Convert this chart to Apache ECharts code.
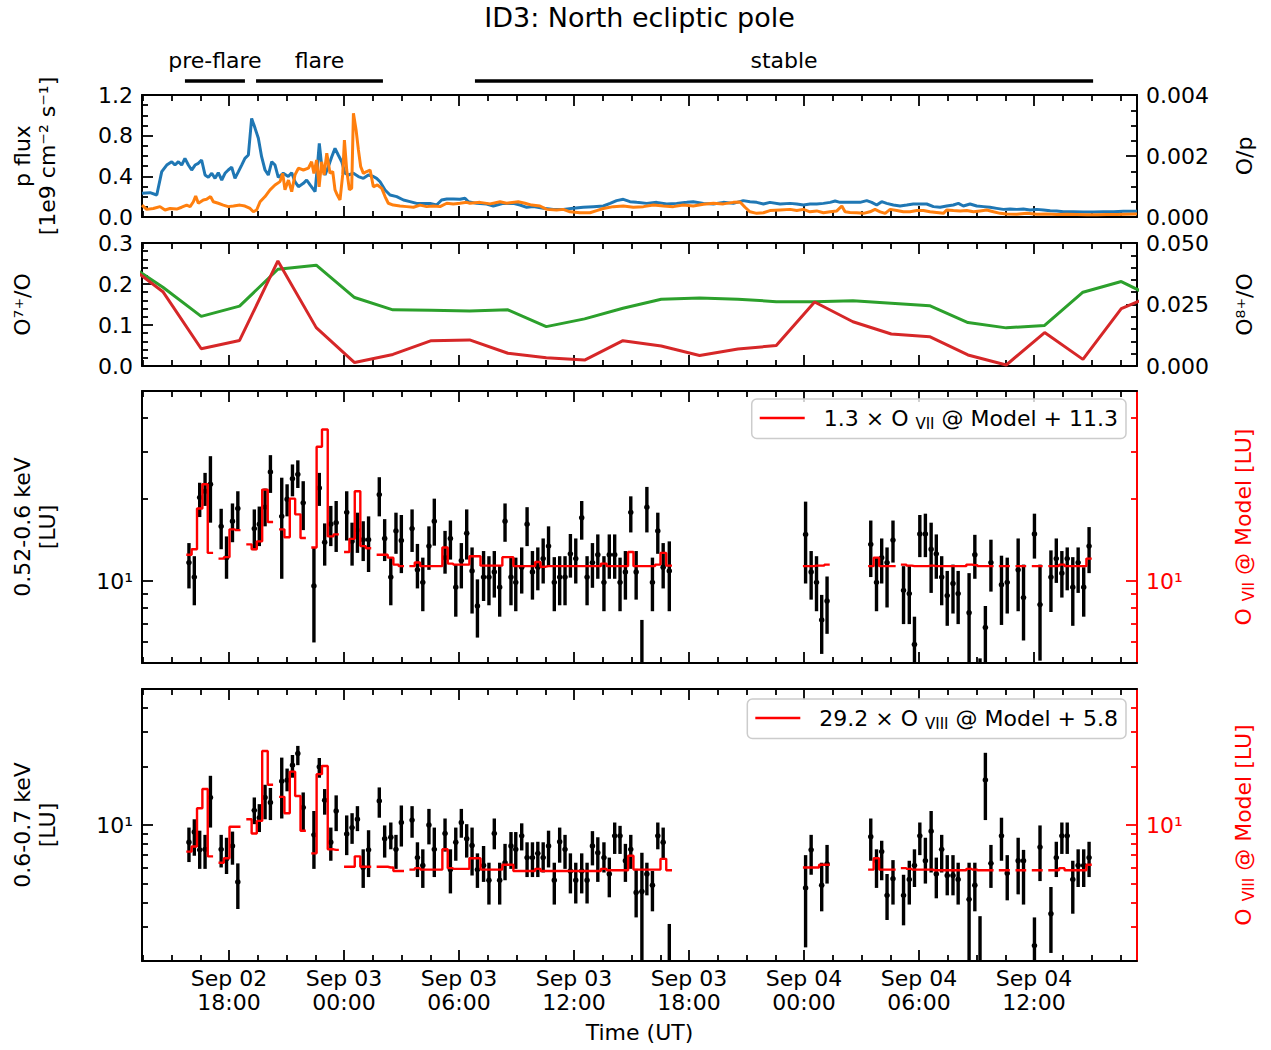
<!DOCTYPE html>
<html><head><meta charset="utf-8">
<script src="https://cdn.jsdelivr.net/npm/echarts@6/dist/echarts.min.js"></script>
<style>html,body{margin:0;padding:0;background:#fff}#c{width:1271px;height:1050px}</style>
</head><body><div id="c"></div><script>
// ---------------- data (hours since Sep 02 00:00 UT) ----------------
const XMIN = 13.46, XMAX = 65.37;
const majorHours = [18, 24, 30, 36, 42, 48, 54, 60];
const tickLabels = ['Sep 02\n18:00','Sep 03\n00:00','Sep 03\n06:00','Sep 03\n12:00','Sep 03\n18:00','Sep 04\n00:00','Sep 04\n06:00','Sep 04\n12:00'];
const minorHours = [13.5,15,16.5,19.5,21,22.5,25.5,27,28.5,31.5,33,34.5,37.5,39,40.5,43.5,45,46.5,49.5,51,52.5,55.5,57,58.5,61.5,63,64.5];

const periodNames = ['pre-flare', 'flare', 'stable'];
const periodStart = [15.70, 19.41, 30.83];
const periodEnd = [18.83, 26.03, 63.08];

// proton flux [1e9 cm^-2 s^-1]
const pFlux = [[13.46,0.233],[13.88,0.239],[14.23,0.216],[14.49,0.446],[14.75,0.511],[15.01,0.544],[15.18,0.511],[15.36,0.544],[15.53,0.511],[15.70,0.577],[15.88,0.511],[16.05,0.462],[16.23,0.511],[16.40,0.528],[16.57,0.561],[16.75,0.413],[16.92,0.390],[17.10,0.430],[17.27,0.380],[17.44,0.436],[17.62,0.364],[17.79,0.430],[17.96,0.462],[18.14,0.489],[18.31,0.380],[18.49,0.446],[18.66,0.511],[18.83,0.577],[19.01,0.610],[19.18,0.970],[19.36,0.872],[19.53,0.774],[19.70,0.593],[19.88,0.462],[20.05,0.413],[20.23,0.544],[20.40,0.511],[20.57,0.390],[20.83,0.430],[21.09,0.398],[21.27,0.436],[21.44,0.347],[21.62,0.298],[21.88,0.331],[22.05,0.364],[22.23,0.315],[22.49,0.249],[22.61,0.495],[22.71,0.725],[22.83,0.511],[23.01,0.413],[23.18,0.495],[23.36,0.593],[23.53,0.675],[23.70,0.610],[23.88,0.544],[24.05,0.430],[24.23,0.413],[24.49,0.430],[24.75,0.398],[25.01,0.380],[25.27,0.413],[25.53,0.398],[25.70,0.380],[25.88,0.347],[26.14,0.266],[26.40,0.216],[26.75,0.200],[27.10,0.167],[27.44,0.151],[27.79,0.134],[28.14,0.134],[28.49,0.134],[28.83,0.118],[29.09,0.167],[29.36,0.177],[29.70,0.177],[30.05,0.174],[30.31,0.184],[30.48,0.151],[30.92,0.134],[31.44,0.128],[31.79,0.108],[32.31,0.134],[32.83,0.134],[33.18,0.118],[33.53,0.095],[33.88,0.102],[34.40,0.085],[34.92,0.075],[35.44,0.075],[35.96,0.085],[36.48,0.095],[37.01,0.102],[37.53,0.108],[37.88,0.134],[38.22,0.161],[38.57,0.174],[38.92,0.151],[39.27,0.144],[39.79,0.134],[40.31,0.144],[40.83,0.128],[41.35,0.134],[41.88,0.144],[42.22,0.151],[42.75,0.134],[43.27,0.128],[43.79,0.144],[44.31,0.134],[44.83,0.161],[45.18,0.151],[45.53,0.144],[45.88,0.128],[46.22,0.144],[46.75,0.128],[47.27,0.134],[47.62,0.128],[47.97,0.118],[48.31,0.128],[48.66,0.128],[49.01,0.134],[49.36,0.144],[49.62,0.157],[49.88,0.144],[50.23,0.144],[50.57,0.144],[50.92,0.144],[51.27,0.161],[51.53,0.144],[51.79,0.118],[52.05,0.151],[52.31,0.134],[52.66,0.118],[53.01,0.108],[53.36,0.118],[53.70,0.128],[54.05,0.128],[54.40,0.128],[54.75,0.102],[55.10,0.095],[55.44,0.108],[55.79,0.118],[56.05,0.134],[56.31,0.108],[56.66,0.128],[57.01,0.108],[57.36,0.102],[57.70,0.095],[58.05,0.085],[58.40,0.075],[58.75,0.079],[59.10,0.075],[59.44,0.079],[59.79,0.069],[60.14,0.075],[60.49,0.069],[60.84,0.062],[61.18,0.059],[61.53,0.052],[62.05,0.052],[62.57,0.049],[63.10,0.049],[63.62,0.052],[64.14,0.052],[64.66,0.056],[65.18,0.056],[65.37,0.056]];

// O/p ratio
const oToP = [[13.46,0.00039],[13.70,0.00025],[14.05,0.00028],[14.40,0.00034],[14.66,0.00023],[14.92,0.00028],[15.27,0.00026],[15.53,0.00032],[15.79,0.00039],[15.97,0.00034],[16.14,0.00050],[16.26,0.00069],[16.40,0.00045],[16.66,0.00056],[16.83,0.00058],[17.04,0.00067],[17.18,0.00050],[17.44,0.00045],[17.70,0.00039],[17.96,0.00034],[18.23,0.00036],[18.57,0.00039],[18.83,0.00036],[19.10,0.00028],[19.27,0.00017],[19.44,0.00023],[19.62,0.00050],[19.88,0.00067],[20.14,0.00089],[20.40,0.00105],[20.66,0.00116],[20.80,0.00143],[20.92,0.00089],[21.10,0.00121],[21.27,0.00083],[21.44,0.00138],[21.62,0.00160],[21.88,0.00154],[22.14,0.00160],[22.31,0.00181],[22.43,0.00143],[22.57,0.00187],[22.70,0.00099],[22.83,0.00181],[22.96,0.00138],[23.10,0.00209],[23.27,0.00143],[23.41,0.00149],[23.53,0.00089],[23.65,0.00072],[23.79,0.00056],[23.93,0.00138],[24.02,0.00252],[24.14,0.00154],[24.28,0.00089],[24.40,0.00094],[24.49,0.00340],[24.63,0.00285],[24.75,0.00220],[24.87,0.00165],[25.01,0.00143],[25.18,0.00149],[25.36,0.00154],[25.53,0.00099],[25.74,0.00105],[25.97,0.00094],[26.14,0.00067],[26.31,0.00045],[26.57,0.00039],[26.92,0.00036],[27.27,0.00034],[27.62,0.00032],[27.97,0.00039],[28.31,0.00034],[28.66,0.00036],[29.01,0.00034],[29.36,0.00045],[29.70,0.00043],[30.05,0.00045],[30.40,0.00048],[30.57,0.00045],[31.09,0.00048],[31.62,0.00043],[32.14,0.00050],[32.48,0.00045],[33.09,0.00050],[33.44,0.00045],[33.79,0.00039],[34.22,0.00036],[34.57,0.00025],[35.09,0.00023],[35.44,0.00025],[35.79,0.00017],[36.31,0.00014],[36.83,0.00014],[37.18,0.00021],[37.53,0.00028],[38.05,0.00034],[38.57,0.00036],[39.09,0.00032],[39.62,0.00034],[40.14,0.00039],[40.66,0.00036],[41.18,0.00034],[41.70,0.00039],[42.22,0.00036],[42.75,0.00042],[43.27,0.00045],[43.79,0.00043],[44.31,0.00048],[44.66,0.00049],[44.92,0.00032],[45.18,0.00017],[45.53,0.00012],[45.88,0.00014],[46.22,0.00021],[46.75,0.00023],[47.27,0.00025],[47.62,0.00021],[47.97,0.00025],[48.31,0.00017],[48.66,0.00020],[49.01,0.00014],[49.36,0.00017],[49.71,0.00020],[49.97,0.00036],[50.14,0.00017],[50.40,0.00015],[50.75,0.00014],[51.10,0.00012],[51.44,0.00017],[51.70,0.00025],[51.97,0.00017],[52.23,0.00012],[52.49,0.00025],[52.84,0.00021],[53.18,0.00017],[53.53,0.00017],[53.88,0.00021],[54.23,0.00021],[54.57,0.00017],[54.92,0.00015],[55.27,0.00012],[55.44,0.00023],[55.79,0.00021],[56.14,0.00020],[56.49,0.00021],[56.84,0.00017],[57.18,0.00020],[57.53,0.00023],[57.88,0.00017],[58.23,0.00012],[58.57,0.00010],[59.10,0.00009],[59.62,0.00012],[60.14,0.00009],[60.66,0.00010],[61.18,0.00008],[61.71,0.00009],[62.23,0.00008],[62.75,0.00007],[63.27,0.00007],[63.79,0.00008],[64.31,0.00008],[64.84,0.00009],[65.37,0.00010]];

// charge-state ratios (2 h cadence)
const ratioTimes = [12.55,14.55,16.55,18.55,20.55,22.55,24.55,26.55,28.55,30.55,32.55,34.55,36.55,38.55,40.55,42.55,44.55,46.55,48.55,50.55,52.55,54.55,56.55,58.55,60.55,62.55,64.55,66.55];
const o7Ratio = [0.254,0.192,0.121,0.146,0.236,0.246,0.167,0.137,0.136,0.134,0.137,0.096,0.115,0.141,0.163,0.166,0.163,0.157,0.157,0.159,0.153,0.147,0.106,0.093,0.099,0.180,0.206,0.160];
const o8Ratio = [0.042,0.0302,0.0070,0.0104,0.0427,0.0156,0.0014,0.0047,0.0103,0.0106,0.0052,0.0034,0.0024,0.0103,0.0081,0.0043,0.0069,0.0083,0.0260,0.0180,0.0130,0.0119,0.0045,0.0004,0.0136,0.0027,0.0233,0.030];

// light-curve bins (shared by both energy bands)
const BIN_HALF = 0.139;
const binTime = [15.91,16.19,16.47,16.75,17.03,17.31,
17.59,17.87,18.18,18.46,18.76,
19.04,19.32,19.58,19.88,20.16,20.45,
20.75,21.03,21.31,21.59,21.87,22.15,
22.43,22.71,22.99,23.31,23.59,23.86,
24.14,24.42,24.70,25.00,25.28,25.56,
25.84,26.12,26.44,26.71,26.99,27.27,
27.55,27.83,28.11,28.43,28.71,28.99,
29.27,29.55,29.83,30.12,30.40,30.68,30.96,
31.28,31.56,31.84,32.12,32.40,32.71,32.96,
33.27,33.55,33.83,34.11,34.39,34.67,34.97,
35.25,35.53,35.81,36.09,36.40,36.68,36.96,
37.24,37.56,37.84,38.12,38.40,38.68,38.96,
39.24,39.54,39.80,40.09,40.37,40.65,40.97,
44.50,
48.08,48.37,48.65,48.92,49.20,
50.30,
51.48,51.78,52.05,52.33,52.64,52.92,
53.19,53.49,53.76,54.04,54.33,54.63,
54.90,55.18,55.47,55.77,56.04,56.32,
56.61,56.91,57.18,57.46,57.75,58.03,
58.30,58.60,58.88,59.17,59.45,59.74,
60.02,60.31,60.59,60.88,61.16,61.45,
61.73,62.02,62.30,62.59,62.87];

// 0.52-0.6 keV [LU]
const val52 = [11.7,10.35,20.3,21.4,22.7,null,
15.9,12.2,16.6,18.5,null,
null,15.6,16.2,18.7,25.2,null,
17.3,20.0,23.8,24.7,19.4,null,
9.6,22.0,13.9,16.2,16.4,null,
17.9,14.0,15.4,14.2,14.2,null,
20.8,14.35,10.35,15.3,14.1,null,
15.6,11.0,9.9,13.45,16.6,null,
12.2,14.35,9.5,11.9,15.0,10.9,8.1,
10.35,10.35,10.8,9.5,16.6,10.35,9.9,
11.25,16.2,10.8,11.25,12.1,13.45,9.9,
10.35,10.35,12.6,12.1,17.1,10.35,11.7,
12.5,9.9,12.5,12.5,9.9,10.8,17.9,
10.8,4.0,18.7,9.9,15.3,11.25,10.9,
null,
14.85,10.8,9.9,7.2,8.45,
null,
13.65,9.9,12.2,11.7,14.15,null,
9.25,9.0,5.85,14.9,14.9,13.1,
12.6,10.35,8.85,9.8,9.0,null,
7.65,12.5,3.5,6.75,11.7,null,
9.7,9.9,null,11.0,8.7,null,
14.9,8.2,null,10.35,12.1,10.7,
12.1,9.5,11.7,9.5,13.45];
const lo52 = [9.4,8.15,17.2,18.9,16.4,null,
13.1,10.2,13.9,15.4,null,
null,13.0,13.45,15.9,21.1,null,
10.2,17.3,20.5,22.0,15.4,null,
5.95,18.9,11.4,13.45,12.8,null,
14.1,11.4,12.7,11.85,10.8,null,
17.3,11.85,8.15,12.6,10.7,null,
12.8,9.4,7.75,11.0,13.5,null,
10.65,12.0,7.4,9.4,12.0,7.6,6.2,
8.45,8.15,8.7,7.4,13.95,8.15,7.75,
9.0,13.45,8.55,9.25,9.8,11.35,7.75,
8.15,8.15,10.3,9.8,14.2,8.15,9.45,
10.2,7.75,10.2,10.2,7.75,8.55,15.1,
8.55,1.0,15.1,7.75,12.6,9.4,7.75,
null,
9.8,8.55,7.75,5.4,6.4,
null,
10.35,7.75,9.8,8.0,11.7,null,
6.95,6.95,4.5,12.25,12.25,9.05,
10.2,8.15,6.85,7.6,6.95,null,
4.5,10.2,1.0,4.5,9.15,null,
6.9,7.6,null,7.75,6.05,null,
12.1,5.1,null,7.7,9.85,8.7,
9.25,6.85,9.05,7.4,10.7];
const hi52 = [13.8,12.35,23.0,25.0,28.8,null,
18.45,14.6,19.3,21.4,null,
null,18.35,18.8,21.9,29.05,null,
24.0,22.7,26.85,27.8,23.3,null,
13.3,25.0,16.3,18.9,19.7,null,
21.4,16.4,17.85,16.6,17.3,null,
24.1,16.9,12.2,17.85,17.5,null,
18.35,13.7,12.2,15.9,20.1,null,
15.3,16.7,11.5,13.8,18.35,13.3,10.15,
12.9,12.35,12.9,11.35,19.3,12.35,12.2,
13.3,18.7,12.9,13.3,14.35,15.9,12.25,
12.35,12.35,14.9,14.35,19.7,12.35,13.8,
14.85,12.35,14.85,14.85,12.2,12.9,20.5,
12.9,7.2,22.2,12.2,17.85,13.8,14.0,
null,
19.6,12.9,12.35,8.9,10.4,
null,
16.7,12.2,14.35,13.3,16.7,null,
11.35,11.35,7.4,17.5,17.7,16.4,
14.85,12.35,10.9,11.5,10.9,null,
10.7,14.8,5.2,8.1,14.2,null,
12.4,12.2,null,14.35,11.5,null,
17.7,11.5,null,12.97,14.35,12.9,
13.3,12.25,13.3,11.25,15.8];
// 1.3 x O VII @ Model + 11.3
const model52 = [12.5,13.1,18.5,22.7,12.7,null,
12.1,12.25,15.5,15.4,null,
13.65,13.1,14.0,21.7,16.5,null,
15.5,14.5,20.1,17.6,14.4,null,
13.3,31.2,36.1,14.6,14.85,null,
12.8,14.3,21.4,13.45,13.2,null,
12.5,12.5,12.2,11.5,11.35,null,
11.35,11.7,11.35,11.35,11.35,11.35,
13.3,11.6,11.5,11.5,11.5,12.35,12.35,
11.4,11.4,11.4,11.4,12.25,12.25,11.35,
11.35,11.35,11.35,11.75,11.3,11.35,11.35,
11.35,11.35,11.35,11.35,11.35,11.35,11.35,
11.35,11.6,11.35,11.35,11.35,11.35,12.8,
11.35,11.35,11.35,11.35,11.5,12.7,11.4,
null,
11.35,11.35,11.4,11.4,11.5,
null,
11.35,12.2,11.35,11.35,11.35,null,
11.5,11.4,11.35,11.35,11.35,11.4,
11.35,11.35,11.35,11.35,11.35,11.35,
11.5,11.45,11.35,11.35,11.35,null,
11.35,11.35,null,11.35,11.35,null,
11.35,11.35,null,11.35,11.35,11.5,
11.35,11.35,11.35,11.35,12.1];

// 0.6-0.7 keV [LU]
const val67 = [8.15,9.2,7.45,7.5,13.85,null,
7.5,6.7,7.8,5.1,null,
null,11.9,10.9,13.85,13.05,null,
16.8,17.0,20.3,23.3,12.3,null,
8.9,19.9,13.4,8.15,11.8,null,
9.0,9.7,10.7,6.05,7.45,null,
13.3,8.5,8.65,7.5,10.3,null,
10.6,6.8,6.2,10.0,7.5,null,
9.05,5.9,8.15,10.3,8.5,7.85,5.9,
6.2,5.2,9.05,5.2,6.4,7.8,7.5,
8.8,6.8,6.8,7.15,6.8,7.8,5.2,
8.2,7.5,5.8,5.2,5.8,5.2,7.8,
7.2,6.8,5.6,8.8,8.8,6.55,7.5,
4.5,4.55,5.6,4.9,8.8,8.15,1.5,
null,
4.75,7.45,null,4.9,6.3,
null,
8.7,6.55,7.3,4.35,5.3,null,
4.35,5.25,6.2,8.8,6.55,9.3,
5.6,7.5,5.5,5.5,5.25,null,
4.15,4.9,1.6,17.05,6.35,null,
8.8,5.65,null,6.55,6.55,null,
2.4,7.7,null,3.5,6.8,8.8,
8.8,5.25,6.2,6.2,6.8];
const lo67 = [6.45,6.95,5.95,5.95,9.7,null,
6.05,5.6,6.25,3.7,null,
null,10.1,9.2,10.7,10.6,null,
10.8,14.9,17.5,20.3,9.4,null,
5.95,17.5,11.3,6.55,9.3,null,
7.0,8.0,9.3,4.75,5.4,null,
10.9,6.8,7.5,5.95,7.75,null,
8.6,5.4,4.75,7.95,5.4,null,
7.3,4.45,6.55,8.6,6.8,5.5,4.75,
5.1,3.9,7.5,3.9,5.2,5.95,5.95,
7.4,5.4,5.4,5.4,5.7,6.05,3.9,
6.4,5.95,4.45,3.95,4.45,3.95,6.2,
5.1,5.7,4.25,7.1,7.1,5.1,5.95,
3.35,1.5,4.35,3.6,7.5,6.75,1.0,
null,
2.35,5.55,null,3.6,5.0,
null,
6.55,4.75,5.2,3.25,3.9,null,
3.05,3.9,4.8,7.0,5.0,5.7,
4.2,5.7,4.35,4.35,3.9,null,
1.8,3.6,1.0,10.6,4.75,null,
6.55,4.1,null,4.4,3.9,null,
1.8,5.15,null,2.2,5.4,7.1,
7.1,3.5,4.8,4.8,5.4];
const hi67 = [9.7,10.7,9.35,8.9,17.9,null,
8.9,8.6,9.25,6.35,null,
null,13.85,12.8,16.1,15.5,null,
22.2,19.5,22.9,25.5,14.7,null,
11.8,22.1,15.3,9.7,14.2,null,
11.2,11.5,12.5,7.5,9.4,null,
15.6,9.95,10.3,8.9,12.6,null,
12.5,8.15,7.5,12.1,9.7,null,
10.8,7.5,9.7,12.1,10.1,9.7,7.15,
7.8,6.4,10.8,6.4,8.0,9.2,9.2,
10.2,8.15,8.15,8.2,8.15,9.35,6.4,
9.7,8.9,7.15,6.4,7.15,6.4,9.3,
8.65,8.15,6.8,10.3,9.9,8.0,8.9,
5.95,7.2,6.4,5.8,10.3,9.7,3.1,
null,
7.0,8.9,null,6.4,7.9,
null,
10.8,7.5,8.3,5.6,6.6,null,
5.55,6.55,7.5,10.3,8.6,11.8,
6.8,8.9,7.0,7.0,6.4,null,
6.4,6.4,3.4,23.5,7.9,null,
10.9,7.0,null,8.6,7.45,null,
3.35,9.95,null,4.8,8.2,10.3,
10.3,6.55,7.5,7.5,8.2];
// 29.2 x O VIII @ Model + 5.8
const model67 = [7.3,7.75,12.2,15.3,6.9,null,
6.4,6.75,9.8,9.8,null,
10.7,9.05,10.5,24.0,16.1,null,
13.95,11.5,18.8,14.1,9.35,null,
7.15,18.25,20.1,7.5,7.45,null,
6.1,6.1,6.9,6.1,6.1,null,
6.1,6.1,6.05,5.8,5.8,null,
5.9,6.0,5.9,5.9,5.9,5.9,
7.5,6.0,5.95,5.95,5.95,6.75,6.75,
5.9,5.9,5.9,5.9,6.25,6.25,5.8,
5.8,5.8,5.8,5.95,5.8,5.8,5.8,
5.8,5.8,5.8,5.8,5.8,5.8,5.8,
5.8,5.95,5.85,5.85,5.85,5.85,6.95,
5.9,5.9,5.9,5.9,5.9,6.7,5.85,
null,
6.05,6.05,6.05,6.25,6.25,
null,
5.9,6.75,5.9,5.9,5.9,null,
6.0,5.95,5.9,5.9,5.9,5.9,
5.85,5.85,5.85,5.85,5.85,5.85,
5.95,5.9,5.85,5.85,5.85,null,
5.85,5.85,null,5.85,5.85,null,
5.85,5.85,null,5.85,5.85,6.0,
5.85,5.85,5.85,5.85,6.25];

// ---------------- chart ----------------
const FONT = 'DejaVu Sans';
const BLACK = '#000000', RED = '#ff0000';
const AXW = 2, TKW = 1.8, MAJ = 11, MINL = 6, FS = 22;

const chart = echarts.init(document.getElementById('c'), null, {renderer: 'svg'});

const gridBase = {left: 142, right: 134, outerBoundsMode: 'none'};
const grids = [
  {...gridBase, top: 40, height: 50},
  {...gridBase, top: 95, height: 122},
  {...gridBase, top: 243, height: 123},
  {...gridBase, top: 391, height: 272},
  {...gridBase, top: 689, height: 272}
];

const xAxes = [{type: 'value', gridIndex: 0, min: XMIN, max: XMAX, show: false}];
const yAxes = [{type: 'value', gridIndex: 0, min: 0, max: 1, show: false}];

function tickStyle(vals, len, color) {
  return {show: true, inside: true, length: len, customValues: vals, lineStyle: {color: color, width: TKW}};
}
function addX(g, withLabels) {
  const base = {type: 'value', gridIndex: g, min: XMIN, max: XMAX, splitLine: {show: false}, minorSplitLine: {show: false}};
  const idx = xAxes.length;
  xAxes.push({...base, position: 'bottom',
    axisLine: {show: true, onZero: false, lineStyle: {color: BLACK, width: AXW}},
    axisTick: tickStyle(majorHours, MAJ, BLACK),
    axisLabel: withLabels ? {show: true, customValues: majorHours, formatter: v => tickLabels[majorHours.indexOf(v)],
      color: BLACK, fontSize: FS, fontFamily: FONT, lineHeight: 24, margin: 5} : {show: false},
    name: withLabels ? 'Time (UT)' : '', nameLocation: 'middle', nameGap: 60,
    nameTextStyle: {color: BLACK, fontSize: FS, fontFamily: FONT}});
  xAxes.push({...base, position: 'bottom', axisLine: {show: false, onZero: false}, axisTick: tickStyle(minorHours, MINL, BLACK), axisLabel: {show: false}});
  xAxes.push({...base, position: 'top', axisLine: {show: true, onZero: false, lineStyle: {color: BLACK, width: AXW}}, axisTick: tickStyle(majorHours, MAJ, BLACK), axisLabel: {show: false}});
  xAxes.push({...base, position: 'top', axisLine: {show: false, onZero: false}, axisTick: tickStyle(minorHours, MINL, BLACK), axisLabel: {show: false}});
  return idx;
}
function linY(g, pos, max, interval, minorSplit, digits, name, gap) {
  const idx = yAxes.length;
  yAxes.push({type: 'value', gridIndex: g, position: pos, min: 0, max: max, interval: interval,
    axisLine: {show: true, onZero: false, lineStyle: {color: BLACK, width: AXW}},
    axisTick: {show: true, inside: true, length: MAJ, lineStyle: {color: BLACK, width: TKW}},
    minorTick: {show: true, splitNumber: minorSplit, length: MINL, lineStyle: {color: BLACK, width: TKW}},
    splitLine: {show: false}, minorSplitLine: {show: false},
    axisLabel: {formatter: v => v.toFixed(digits), color: BLACK, fontSize: FS, fontFamily: FONT, margin: 9},
    name: name, nameLocation: 'middle', nameRotate: 90, nameGap: gap,
    nameTextStyle: {color: BLACK, fontSize: FS, fontFamily: FONT, lineHeight: 25}});
  return idx;
}
function logY(g, min, max, minorVals, leftName, rightName, rightRich) {
  const lmin = Math.log10(min), lmax = Math.log10(max);
  const idx = yAxes.length;
  const plain = {splitLine: {show: false}, minorSplitLine: {show: false}};
  yAxes.push({...plain, type: 'log', logBase: 10, gridIndex: g, position: 'left', min: min, max: max,
    axisLine: {show: true, onZero: false, lineStyle: {color: BLACK, width: AXW}},
    axisTick: {show: false}, axisLabel: {show: false},
    name: leftName, nameLocation: 'middle', nameRotate: 90, nameGap: 82,
    nameTextStyle: {color: BLACK, fontSize: FS, fontFamily: FONT, lineHeight: 25}});
  yAxes.push({...plain, type: 'value', gridIndex: g, position: 'left', min: lmin, max: lmax,
    axisLine: {show: false, onZero: false}, axisTick: tickStyle([1], MAJ, BLACK),
    axisLabel: {show: true, customValues: [1], formatter: () => '10¹', color: BLACK, fontSize: FS, fontFamily: FONT, margin: 9}});
  yAxes.push({...plain, type: 'value', gridIndex: g, position: 'left', min: lmin, max: lmax,
    axisLine: {show: false, onZero: false}, axisTick: tickStyle(minorVals.map(Math.log10), MINL, BLACK), axisLabel: {show: false}});
  yAxes.push({...plain, type: 'log', logBase: 10, gridIndex: g, position: 'right', min: min, max: max,
    axisLine: {show: true, onZero: false, lineStyle: {color: RED, width: AXW}},
    axisTick: {show: false}, axisLabel: {show: false},
    name: rightName, nameLocation: 'middle', nameRotate: 90, nameGap: 93,
    nameTextStyle: {color: RED, fontSize: FS, fontFamily: FONT, rich: rightRich}});
  yAxes.push({...plain, type: 'value', gridIndex: g, position: 'right', min: lmin, max: lmax,
    axisLine: {show: false, onZero: false}, axisTick: tickStyle([1], MAJ, RED),
    axisLabel: {show: true, customValues: [1], formatter: () => '10¹', color: RED, fontSize: FS, fontFamily: FONT, margin: 9}});
  yAxes.push({...plain, type: 'value', gridIndex: g, position: 'right', min: lmin, max: lmax,
    axisLine: {show: false, onZero: false}, axisTick: tickStyle(minorVals.map(Math.log10), MINL, RED), axisLabel: {show: false}});
  return idx;
}

const redRich = {
  a: {color: RED, fontSize: FS, fontFamily: FONT, lineHeight: 26},
  b: {color: RED, fontSize: 15, fontFamily: FONT, lineHeight: 16, verticalAlign: 'bottom'}
};

const x1 = addX(1, false), x2 = addX(2, false), x3 = addX(3, false), x4 = addX(4, true);
const y1L = linY(1, 'left', 1.2, 0.4, 4, 1, 'p flux\n[1e9 cm⁻² s⁻¹]', 82);
const y1R = linY(1, 'right', 0.004, 0.002, 4, 3, 'O/p', 95);
const y2L = linY(2, 'left', 0.3, 0.1, 5, 1, 'O⁷⁺/O', 107);
const y2R = linY(2, 'right', 0.05, 0.025, 5, 3, 'O⁸⁺/O', 95);
const y3 = logY(3, 5, 50, [6, 7, 8, 9, 20, 30, 40], '0.52-0.6 keV\n[LU]', '{a|O }{b|VII}{a| @ Model [LU]}', redRich);
const y4 = logY(4, 2, 50, [3, 4, 5, 6, 7, 8, 9, 20, 30, 40], '0.6-0.7 keV\n[LU]', '{a|O }{b|VIII}{a| @ Model [LU]}', redRich);

function errorBars(xi, yi, vals, los, his) {
  const data = [];
  binTime.forEach((t, i) => { if (vals[i] != null) data.push([t, vals[i], los[i], his[i]]); });
  return {type: 'custom', xAxisIndex: xi, yAxisIndex: yi, clip: true, silent: true, z: 3,
    data: data, encode: {x: 0, y: [1, 2, 3]},
    renderItem: function (params, api) {
      const t = api.value(0);
      const pV = api.coord([t, api.value(1)]);
      const pL = api.coord([t, api.value(2)]);
      const pH = api.coord([t, api.value(3)]);
      return {type: 'group', children: [
        {type: 'line', shape: {x1: pL[0], y1: pL[1], x2: pH[0], y2: pH[1]}, style: {stroke: BLACK, lineWidth: 3.4}},
        {type: 'circle', shape: {cx: pV[0], cy: pV[1], r: 2.8}, style: {fill: BLACK}}
      ]};
    }};
}
// step outline: each bin spans its full width; runs separated by empty points placed on the run edges
function stepData(vals) {
  const out = [];
  let inRun = false;
  for (let i = 0; i < binTime.length; i++) {
    const v = vals[i];
    if (v == null) continue;
    if (!inRun) {
      if (out.length) out.push([binTime[i] - BIN_HALF, '-']);
      out.push([binTime[i] - BIN_HALF, v]);
      inRun = true;
    }
    out.push([binTime[i], v]);
    if (i + 1 >= binTime.length || vals[i + 1] == null) {
      out.push([binTime[i] + BIN_HALF, v]);
      out.push([binTime[i] + BIN_HALF, '-']);
      inRun = false;
    }
  }
  return out;
}

const series = [
  {type: 'custom', name: 'periods', xAxisIndex: 0, yAxisIndex: 0, silent: true,
   data: periodNames.map((n, i) => [periodStart[i], periodEnd[i], i]),
   renderItem: function (params, api) {
     const a = api.coord([api.value(0), 0.18]);
     const b = api.coord([api.value(1), 0.18]);
     const c = api.coord([(api.value(0) + api.value(1)) / 2, 0.6]);
     return {type: 'group', children: [
       {type: 'line', shape: {x1: a[0], y1: a[1], x2: b[0], y2: b[1]}, style: {stroke: BLACK, lineWidth: 3.5}},
       {type: 'text', style: {text: periodNames[api.value(2)], x: c[0], y: c[1], align: 'center', verticalAlign: 'middle',
         textAlign: 'center', textVerticalAlign: 'middle', fill: BLACK, fontSize: FS, fontFamily: FONT}}
     ]};
   }},
  {type: 'line', name: 'p flux', xAxisIndex: x1, yAxisIndex: y1L, data: pFlux, symbol: 'none', clip: true,
   lineStyle: {color: '#1f77b4', width: 3}, itemStyle: {color: '#1f77b4'}},
  {type: 'line', name: 'O/p', xAxisIndex: x1, yAxisIndex: y1R, data: oToP, symbol: 'none', clip: true,
   lineStyle: {color: '#ff7f0e', width: 3}, itemStyle: {color: '#ff7f0e'}},
  {type: 'line', name: 'O7', xAxisIndex: x2, yAxisIndex: y2L, data: ratioTimes.map((t, i) => [t, o7Ratio[i]]), symbol: 'none', clip: true,
   lineStyle: {color: '#2ca02c', width: 3}, itemStyle: {color: '#2ca02c'}},
  {type: 'line', name: 'O8', xAxisIndex: x2, yAxisIndex: y2R, data: ratioTimes.map((t, i) => [t, o8Ratio[i]]), symbol: 'none', clip: true,
   lineStyle: {color: '#d62728', width: 3}, itemStyle: {color: '#d62728'}},
  errorBars(x3, y3, val52, lo52, hi52),
  {type: 'line', name: 'm52', xAxisIndex: x3, yAxisIndex: y3, data: stepData(model52), step: 'middle', symbol: 'none', clip: true, z: 4,
   connectNulls: false, lineStyle: {color: RED, width: 2.4}, itemStyle: {color: RED}},
  errorBars(x4, y4, val67, lo67, hi67),
  {type: 'line', name: 'm67', xAxisIndex: x4, yAxisIndex: y4, data: stepData(model67), step: 'middle', symbol: 'none', clip: true, z: 4,
   connectNulls: false, lineStyle: {color: RED, width: 2.4}, itemStyle: {color: RED}}
];

const legendRich = {
  f: {color: BLACK, fontSize: FS, fontFamily: FONT, lineHeight: 27, padding: [0, 0, 0, 14]},
  n: {color: BLACK, fontSize: FS, fontFamily: FONT, lineHeight: 27},
  s: {color: BLACK, fontSize: 15, fontFamily: FONT, lineHeight: 16, verticalAlign: 'bottom'}
};
const legendBase = {orient: 'horizontal', icon: 'rect', itemWidth: 45, itemHeight: 2.4, padding: [8, 8, 7, 8],
  borderColor: '#cccccc', borderWidth: 1.5, borderRadius: 5, backgroundColor: 'rgba(255,255,255,0.8)',
  selectedMode: false, textStyle: {color: BLACK, fontSize: FS, fontFamily: FONT, rich: legendRich}};

chart.setOption({
  animation: false,
  backgroundColor: '#ffffff',
  textStyle: {fontFamily: FONT},
  title: {text: 'ID3: North ecliptic pole', left: 639.5, top: 4, padding: 0, textAlign: 'center',
    textStyle: {fontSize: 27, fontWeight: 'normal', color: BLACK, fontFamily: FONT}},
  grid: grids,
  xAxis: xAxes,
  yAxis: yAxes,
  legend: [
    {...legendBase, data: ['m52'], right: 145, top: 399, formatter: () => '{f|1.3 × O }{s|VII}{n| @ Model + 11.3}'},
    {...legendBase, data: ['m67'], right: 145, top: 699, formatter: () => '{f|29.2 × O }{s|VIII}{n| @ Model + 5.8}'}
  ],
  series: series
});
</script></body></html>
